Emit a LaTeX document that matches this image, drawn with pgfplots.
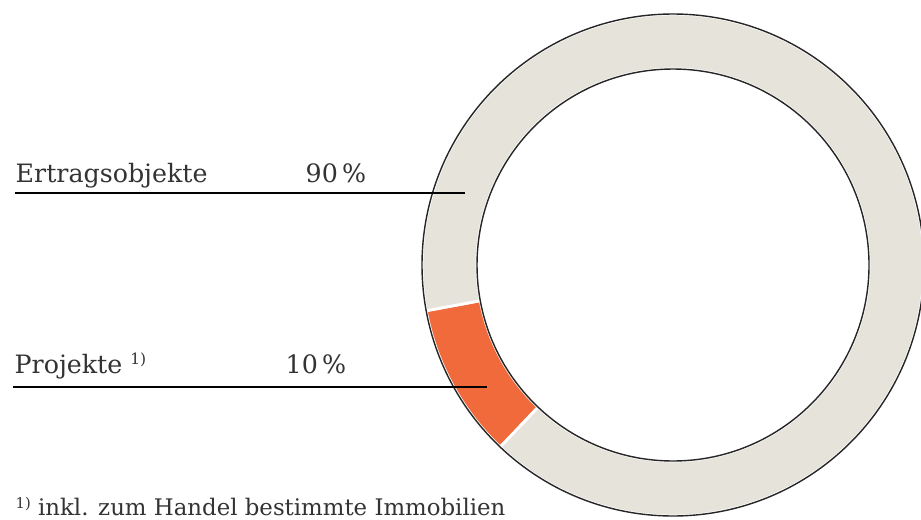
\documentclass[border=0pt]{standalone}
\usepackage{pgfplots}
\usepackage{pgfplotstable}
\usepackage{fontspec}
\setmainfont{DejaVu Serif}
\pgfplotsset{compat=1.18}
\definecolor{ringgrey}{HTML}{E6E3DB}
\definecolor{ringorange}{HTML}{F06A3C}
\definecolor{txt}{HTML}{333333}

\pgfplotstableread{
label value
Projekte 10
Ertragsobjekte 90
}\donutdata

\pgfplotstablegetelem{0}{value}\of\donutdata
\let\vA\pgfplotsretval
\pgfplotstablegetelem{1}{value}\of\donutdata
\let\vB\pgfplotsretval
\pgfmathsetmacro\aS{190.5}
\pgfmathsetmacro\aM{\aS+3.6*\vA}
\pgfmathsetmacro\aE{\aM+3.6*\vB}
\def\cx{673}
\def\cy{255}
\def\Ro{251}
\def\Ri{196}

\begin{document}
\begin{tikzpicture}
\begin{axis}[
  at={(0,0)}, anchor=origin,
  width=9.21cm, height=5.2cm, scale only axis,
  xmin=0, xmax=921, ymin=0, ymax=520,
  hide axis, clip=false]
% segments
\fill[ringorange, draw=white, line width=0.8pt]
  (axis cs:{\cx+\Ro*cos(\aS)},{\cy+\Ro*sin(\aS)})
  arc[start angle=\aS, end angle=\aM, radius=\Ro]
  -- (axis cs:{\cx+\Ri*cos(\aM)},{\cy+\Ri*sin(\aM)})
  arc[start angle=\aM, end angle=\aS, radius=\Ri] -- cycle;
\fill[ringgrey, draw=white, line width=0.8pt]
  (axis cs:{\cx+\Ro*cos(\aM)},{\cy+\Ro*sin(\aM)})
  arc[start angle=\aM, end angle=\aE, radius=\Ro]
  -- (axis cs:{\cx+\Ri*cos(\aE)},{\cy+\Ri*sin(\aE)})
  arc[start angle=\aE, end angle=\aM, radius=\Ri] -- cycle;
\draw[black!85, line width=0.4pt] (axis cs:\cx,\cy) circle[radius=\Ro];
\draw[black!85, line width=0.4pt] (axis cs:\cx,\cy) circle[radius=\Ri];
% leader lines
\addplot[black, line width=0.55pt] coordinates {(15,327) (465,327)};
\addplot[black, line width=0.55pt] coordinates {(13,133) (487,133)};
% labels
\node[anchor=base west, inner sep=0pt, text=txt, font=\fontsize{7.2}{8.5}\selectfont] at (axis cs:15,338) {Ertragsobjekte};
\node[anchor=base west, inner sep=0pt, text=txt, font=\fontsize{7.2}{8.5}\selectfont] at (axis cs:305,338) {90\,\%};
\node[anchor=base west, inner sep=0pt, text=txt, font=\fontsize{7.2}{8.5}\selectfont] at (axis cs:14,147) {Projekte \raisebox{0.35em}{\fontsize{4.4}{5}\selectfont 1)}};
\node[anchor=base west, inner sep=0pt, text=txt, font=\fontsize{7.2}{8.5}\selectfont] at (axis cs:285,147) {10\,\%};
\node[anchor=base west, inner sep=0pt, text=txt, font=\fontsize{6.5}{8}\selectfont] at (axis cs:15,4) {\raisebox{0.35em}{\fontsize{4.2}{5}\selectfont 1)} inkl. zum Handel bestimmte Immobilien};
\end{axis}
\pgfresetboundingbox
\path[use as bounding box] (0,0) rectangle (9.21,5.2);
\end{tikzpicture}
\end{document}
